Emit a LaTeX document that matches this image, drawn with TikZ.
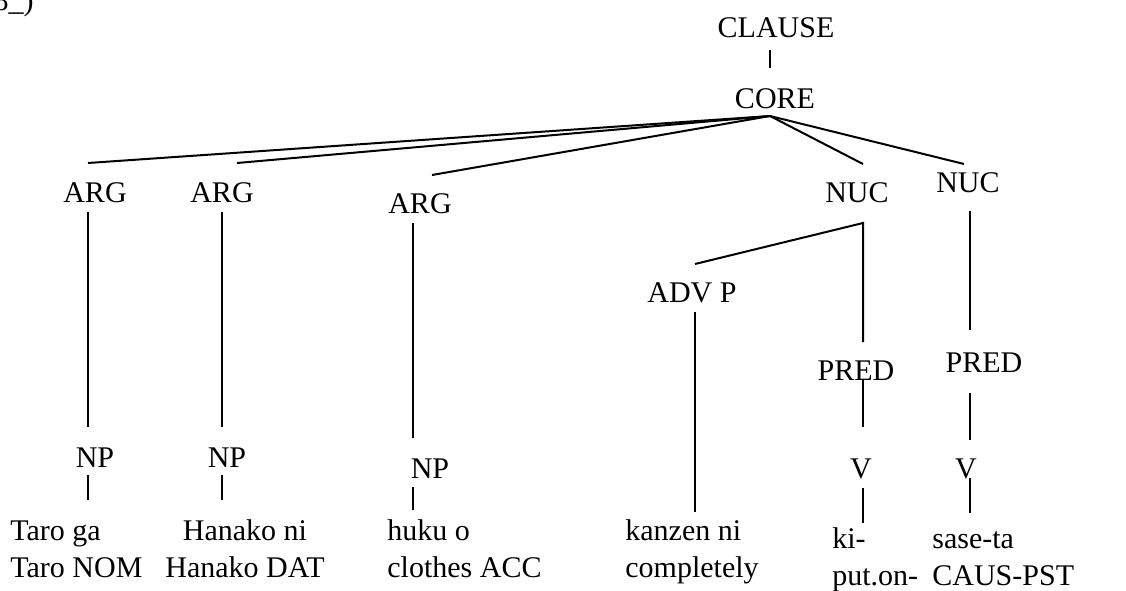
\documentclass[tikz,border=0pt]{standalone}
\usepackage{fontspec}
\setmainfont{Liberation Serif}
\begin{document}
\begin{tikzpicture}[x=0.5pt,y=-0.5pt,
  lbl/.style={inner sep=0pt, anchor=base, font=\fontsize{15}{18.5}\selectfont},
  leaf/.style={inner sep=0pt, anchor=base west, font=\fontsize{15}{18.5}\selectfont},
  edge/.style={line width=1pt}]
\useasboundingbox (0,0) rectangle (1126,590);
\clip (0,0) rectangle (1126,590);
% stray label at top left
\node[lbl, anchor=base east] (num) at (34,10) {8\_)};
% category nodes
\node[lbl] (clause) at (776,37) {CLAUSE};
\node[lbl] (core) at (775,108) {CORE};
\node[lbl] (arg1) at (95,202) {ARG};
\node[lbl] (arg2) at (222,202) {ARG};
\node[lbl] (arg3) at (420,213) {ARG};
\node[lbl] (nuc1) at (857,202) {NUC};
\node[lbl] (nuc2) at (968,192) {NUC};
\node[lbl] (advp) at (692,302) {ADV P};
\node[lbl] (pred1) at (856,380) {PRED};
\node[lbl] (pred2) at (984,372) {PRED};
\node[lbl] (np1) at (95,467) {NP};
\node[lbl] (np2) at (227,467) {NP};
\node[lbl] (np3) at (430,478) {NP};
\node[lbl] (v1) at (861,478) {V};
\node[lbl] (v2) at (966,478) {V};
% leaves
\node[leaf] (w1) at (10,540) {Taro ga};
\node[leaf] (g1) at (10,577) {Taro NOM};
\node[lbl] (w2) at (245,540) {Hanako ni};
\node[lbl] (g2) at (245,577) {Hanako DAT};
\node[leaf] (w3) at (387,540) {huku o};
\node[leaf] (g3) at (387,577) {clothes ACC};
\node[leaf] (w4) at (625,540) {kanzen ni};
\node[leaf] (g4) at (625,577) {completely};
\node[leaf] (w5) at (832,548) {ki-};
\node[leaf] (g5) at (832,585) {put.on-};
\node[leaf] (w6) at (932,548) {sase-ta};
\node[leaf] (g6) at (932,585) {CAUS-PST};
% connector end points
\coordinate (clause-b) at (770,50);
\coordinate (core-t) at (770,68);
\coordinate (core-b) at (770,116);
\coordinate (arg1-t) at (88,163);
\coordinate (arg2-t) at (237,163);
\coordinate (arg3-t) at (432,175);
\coordinate (nuc1-t) at (863,164);
\coordinate (nuc2-t) at (964,164);
\coordinate (arg1-b) at (88,212);
\coordinate (np1-t) at (88,427);
\coordinate (np1-b) at (88,475);
\coordinate (w1-t) at (88,500);
\coordinate (arg2-b) at (222,212);
\coordinate (np2-t) at (222,427);
\coordinate (np2-b) at (222,475);
\coordinate (w2-t) at (222,500);
\coordinate (arg3-b) at (413,223);
\coordinate (np3-t) at (413,438);
\coordinate (np3-b) at (413,487);
\coordinate (w3-t) at (413,510);
\coordinate (nuc1-b) at (863,223);
\coordinate (advp-t) at (695,264);
\coordinate (advp-b) at (695,312);
\coordinate (w4-t) at (695,512);
\coordinate (pred1-t) at (863,342);
\coordinate (pred1-b) at (863,380);
\coordinate (v1-t) at (863,427);
\coordinate (v1-b) at (863,488);
\coordinate (w5-t) at (863,523);
\coordinate (nuc2-b) at (970,211);
\coordinate (pred2-t) at (970,330);
\coordinate (pred2-b) at (970,393);
\coordinate (v2-t) at (970,440);
\coordinate (v2-b) at (970,478);
\coordinate (w6-t) at (970,513);
% connectors
\draw[edge] (clause-b) -- (core-t);
\draw[edge] (core-b) -- (arg1-t);
\draw[edge] (core-b) -- (arg2-t);
\draw[edge] (core-b) -- (arg3-t);
\draw[edge] (core-b) -- (nuc1-t);
\draw[edge] (core-b) -- (nuc2-t);
\draw[edge] (arg1-b) -- (np1-t);
\draw[edge] (np1-b) -- (w1-t);
\draw[edge] (arg2-b) -- (np2-t);
\draw[edge] (np2-b) -- (w2-t);
\draw[edge] (arg3-b) -- (np3-t);
\draw[edge] (np3-b) -- (w3-t);
\draw[edge] (advp-t) -- (nuc1-b) -- (pred1-t);
\draw[edge] (advp-b) -- (w4-t);
\draw[edge] (pred1-b) -- (v1-t);
\draw[edge] (v1-b) -- (w5-t);
\draw[edge] (nuc2-b) -- (pred2-t);
\draw[edge] (pred2-b) -- (v2-t);
\draw[edge] (v2-b) -- (w6-t);
\end{tikzpicture}
\end{document}
